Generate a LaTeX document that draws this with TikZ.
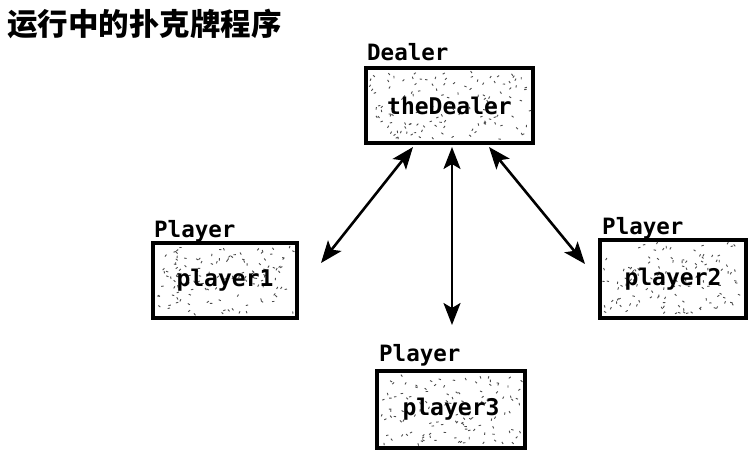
\documentclass[tikz,border=0pt]{standalone}
\usepackage{fontspec}
\newfontfamily\cjk{Noto Sans CJK SC}
\newfontfamily\monof{DejaVu Sans Mono}
\usetikzlibrary{arrows.meta}
\tikzset{
  objbox/.style={draw=black, line width=3.2pt, fill=white, inner sep=0pt},
  objtext/.style={anchor=center, inner sep=0pt, font=\monof\bfseries\fontsize{23}{23}\selectfont},
  clslabel/.style={anchor=base west, inner sep=0pt, font=\monof\bfseries\fontsize{22.5}{22.5}\selectfont},
  link/.style={line width=2.6pt, {Stealth[length=22pt,width=17pt,inset=5pt]}-{Stealth[length=22pt,width=17pt,inset=5pt]}},
}
\newcommand{\speckles}[4]{%
  \foreach \i in {1,...,130}{%
    \pgfmathsetmacro\xx{#1+4+rnd*(#3-#1-8)}%
    \pgfmathsetmacro\yy{#2+4+rnd*(#4-#2-8)}%
    \pgfmathsetmacro\aa{rnd*360}%
    \draw[black!70, line width=0.9pt] (\xx,\yy) -- ++(\aa:2.4);
  }%
}
\begin{document}
\begin{tikzpicture}[x=1pt,y=-1pt]
\useasboundingbox (0,0) rectangle (755,456);
\pgfmathsetseed{7}
% title
\node[anchor=base west, inner sep=0pt, font=\cjk\bfseries\fontsize{30.5}{30.5}\selectfont] (title) at (7,35) {运行中的扑克牌程序};
% boxes
\node[objbox, minimum width=167pt, minimum height=75pt] (dealer) at (449.5,105.5) {};
\node[objbox, minimum width=144pt, minimum height=75pt] (p1) at (225,280.5) {};
\node[objbox, minimum width=146pt, minimum height=78pt] (p2) at (673,279) {};
\node[objbox, minimum width=148pt, minimum height=77pt] (p3) at (451,409.5) {};
\speckles{366}{68}{533}{143}
\speckles{153}{243}{297}{318}
\speckles{600}{240}{746}{318}
\speckles{377}{371}{525}{448}
\node[objtext] (t0) at (dealer) {theDealer};
\node[objtext] (t1) at (p1) {player1};
\node[objtext] (t2) at (p2) {player2};
\node[objtext] (t3) at (p3) {player3};
% class labels
\node[clslabel] (l0) at (367,60) {Dealer};
\node[clslabel] (l1) at (154,237) {Player};
\node[clslabel] (l2) at (602,234) {Player};
\node[clslabel] (l3) at (379,361) {Player};
% connector ends
\coordinate (a0) at (413,147);
\coordinate (a1) at (321,263);
\coordinate (b0) at (452,147);
\coordinate (b1) at (452,325);
\coordinate (c0) at (489,147);
\coordinate (c1) at (585,264);
\draw[link] (a0) -- (a1);
\draw[link] (b0) -- (b1);
\draw[link] (c0) -- (c1);
\end{tikzpicture}
\end{document}
